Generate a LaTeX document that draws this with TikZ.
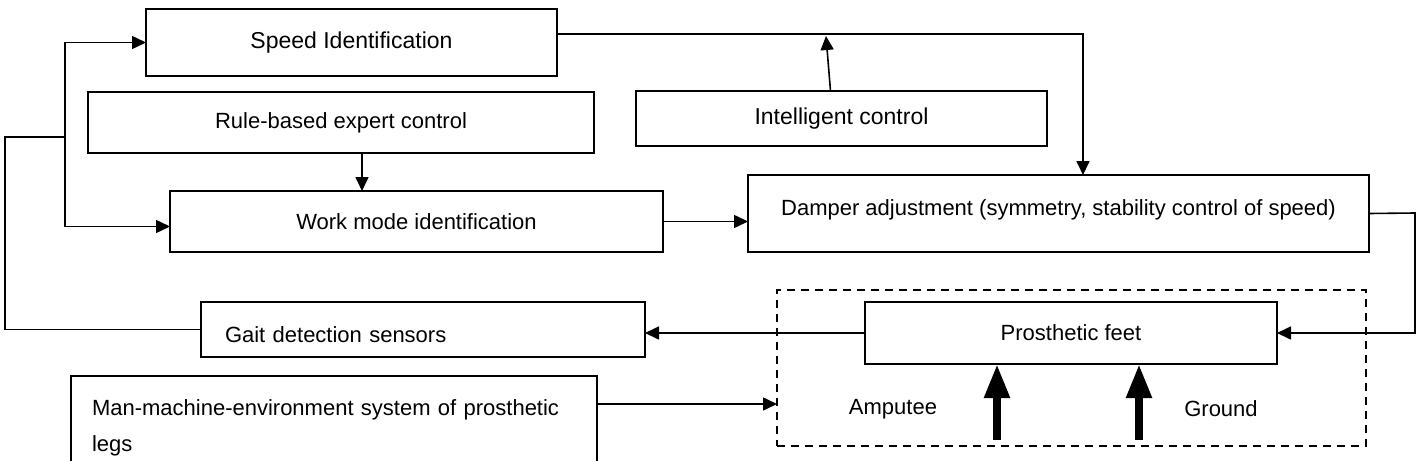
\documentclass[tikz,border=0pt]{standalone}
\usepackage{fontspec}
\setmainfont{Liberation Sans}
\usetikzlibrary{arrows.meta}

\begin{document}
\begin{tikzpicture}[
  x = 0.5pt, y = -0.5pt,
  block/.style = {
    shape = rectangle,
    draw = black,
    line width = 1pt,
    inner sep = 0pt,
    outer sep = 0pt,
    font = \fontsize{11}{14}\selectfont,
  },
  system/.style = {
    shape = rectangle,
    draw = black,
    line width = 1pt,
    dash pattern = on 4pt off 3pt,
    inner sep = 0pt,
    outer sep = 0pt,
  }
]
  \clip (0, 0) rectangle (1421, 461);

  \node[system, minimum width = 294.5pt, minimum height = 78pt] (sys) at (1071.5, 368) {};

  \node[block, minimum width = 205.5pt, minimum height = 33.5pt, font = \fontsize{11.5}{14}\selectfont] (spd) at (351.5, 42.5) {Speed Identification};
  \node[block, minimum width = 253pt, minimum height = 30.5pt] (rule) at (341, 122.5) {Rule-based expert control};
  \node[block, minimum width = 205.5pt, minimum height = 27.5pt, font = \fontsize{11.5}{14}\selectfont] (intel) at (841.5, 118.5) {Intelligent control};
  \node[block, minimum width = 246.5pt, minimum height = 30.5pt] (wrk) at (416.5, 221.5) {Work mode identification};
  \node[block, minimum width = 310.5pt, minimum height = 38.5pt, text height = 8.5pt, text depth = 6.5pt] (dmp) at (1058.5, 213.5) {Damper adjustment (symmetry, stability control of speed)};
  \node[block, minimum height = 27.5pt, inner xsep = 12pt, text width = 198pt, align = left, text height = 13pt, text depth = 0pt] (gait) at (423, 329.5) {Gait detection sensors};
  \node[block, minimum width = 206pt, minimum height = 31pt] (pft) at (1071, 333) {Prosthetic feet};
  \node[block, anchor = north west, minimum height = 52pt, inner xsep = 10.5pt, text width = 242pt, align = left,
        font = \fontsize{11}{18}\selectfont] (mmes) at (71, 376)
    {Man-machine-environment system of prosthetic\\legs};

  \node[font = \fontsize{11}{14}\selectfont] (amp) at (893, 409) {Amputee};
  \node[font = \fontsize{11}{14}\selectfont] (gnd) at (1221, 409) {Ground};

  \coordinate (loopL) at (5, 137);
  \coordinate (loopM) at (65, 137);
  \coordinate (sTop) at (1083, 34);
  \coordinate (iTip) at (826, 36);
  \coordinate (dR) at (1415, 213);
  \coordinate (mIn) at (777, 404);
  \coordinate (ampFoot) at (997, 440);
  \coordinate (gndFoot) at (1139, 440);

  \begin{scope}[
    every path/.style = {-{Triangle[length = 7pt, width = 6.5pt]}, line width = 0.8pt}
  ]
    \draw[-] (gait.west) -| (loopL) -- (loopM);
    \draw (loopM) |- (spd.west);
    \draw (loopM) |- ([yshift = -2.5pt]wrk.west);

    \draw ([xshift = 10.5pt]rule.south) -- ([xshift = 10.5pt]rule.south |- wrk.north);
    \draw ([xshift = -5.5pt]intel.north) -- (iTip);

    \draw (spd.east |- sTop) -- (sTop) -- (sTop |- dmp.north);
    \draw (wrk.east) -- (wrk.east -| dmp.west);

    \draw (dmp.east) -- (dR) |- (pft.east);
    \draw (pft.west) -- (pft.west -| gait.east);

    \draw (mmes.east |- mIn) -- (mIn);

    \draw[-{Triangle[length = 17pt, width = 12pt]}, line width = 4pt]
      (ampFoot) -- (ampFoot |- pft.south);
    \draw[-{Triangle[length = 17pt, width = 12pt]}, line width = 4pt]
      (gndFoot) -- (gndFoot |- pft.south);
  \end{scope}
\end{tikzpicture}
\end{document}
